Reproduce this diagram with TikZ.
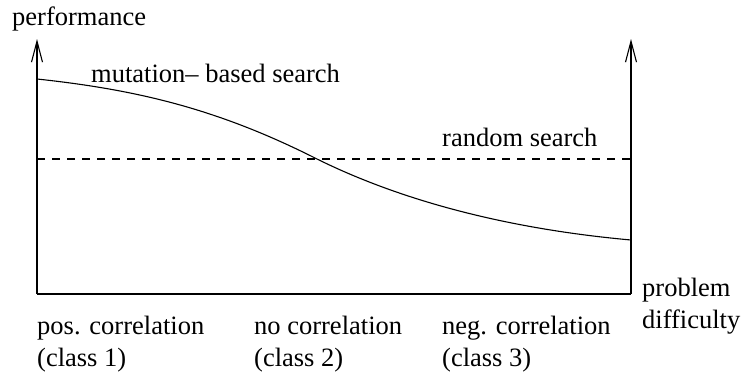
\documentclass[tikz,border=0pt]{standalone}
\usepackage{fontspec}
\setmainfont{Liberation Serif}
\newfontfamily\timesfont{Liberation Serif}
\usetikzlibrary{arrows.meta}
\tikzset{
  lbl/.style={anchor=base west, inner sep=0pt, font=\timesfont\fontsize{26.5}{32}\selectfont},
  axis/.style={line width=1.1pt, -{Straight Barb[length=21pt,width=11pt,line width=1.1pt]}},
  frame/.style={line width=1.1pt},
  curvestyle/.style={line width=1.1pt},
  randline/.style={line width=1.1pt, dash pattern=on 8pt off 7pt}
}
\begin{document}
\begin{tikzpicture}[x=1pt,y=-1pt]
\useasboundingbox (0,0) rectangle (745,376);
\coordinate (O) at (37,294);
\coordinate (Ytop) at (37,39);
\coordinate (R) at (631,294);
\coordinate (Rtop) at (631,39);
\coordinate (Lr) at (37,159);
\coordinate (Rr) at (631,159);
\coordinate (Cs) at (37,79);
\coordinate (Cm) at (317,159);
\coordinate (Ce) at (631,240);
% axes
\draw[axis] (O) -- (Ytop);
\draw[axis] (R) -- (Rtop);
\draw[frame] (O) -- (R);
% random search line
\draw[randline] (Lr) -- (Rr);
% mutation-based curve
\draw[curvestyle] (Cs) .. controls (140,90) and (220,110) .. (Cm)
  .. controls (410,205) and (520,230) .. (Ce);
% labels
\node[lbl] (perf) at (12,25) {performance};
\node[lbl] (mut) at (91,82) {mutation– based search};
\node[lbl] (rand) at (442,146) {random search};
\node[lbl] (prob) at (642,296) {problem};
\node[lbl] (diff) at (642,328) {difficulty};
\node[lbl] (pos) at (37,334) {pos. correlation};
\node[lbl] (c1) at (37,366) {(class 1)};
\node[lbl] (no) at (254,334) {no correlation};
\node[lbl] (c2) at (254,366) {(class 2)};
\node[lbl] (neg) at (442,334) {neg. correlation};
\node[lbl] (c3) at (442,366) {(class 3)};
\end{tikzpicture}
\end{document}
